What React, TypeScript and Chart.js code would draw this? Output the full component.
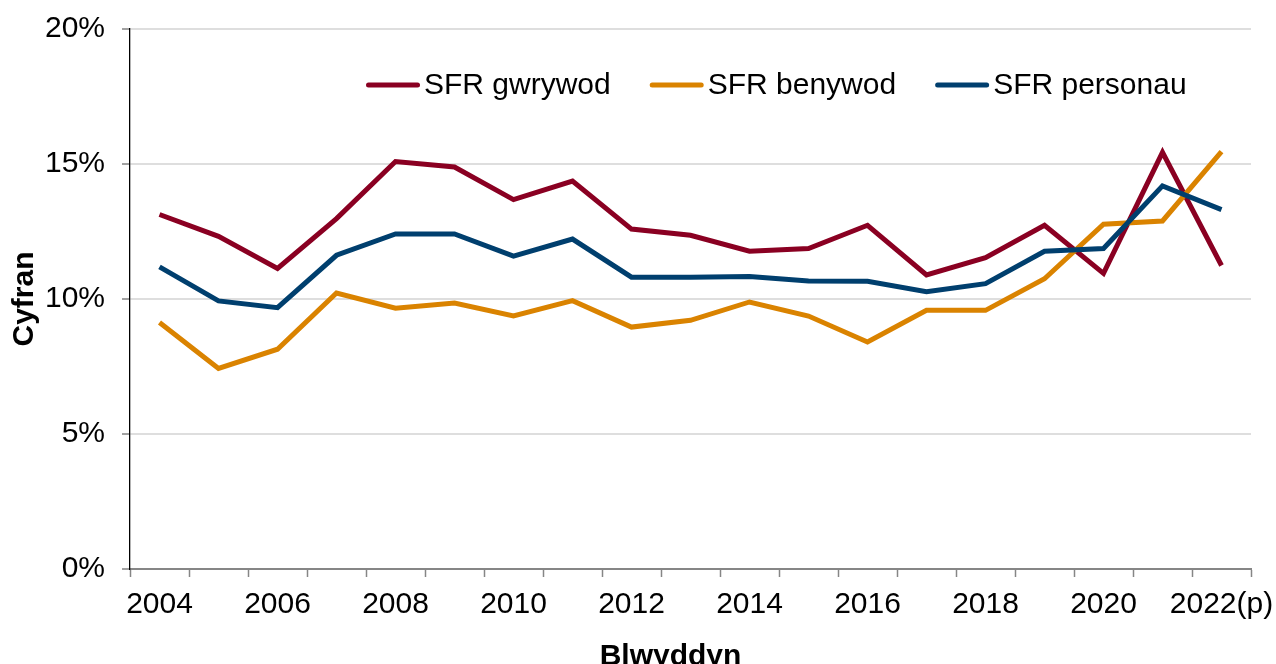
import React, { useEffect, useRef } from "react";
import { Chart, registerables } from "chart.js";

Chart.register(...registerables);

const YEARS = [
  "2004", "2005", "2006", "2007", "2008", "2009", "2010", "2011", "2012", "2013",
  "2014", "2015", "2016", "2017", "2018", "2019", "2020", "2021", "2022(p)",
];

const SFR_GWRYWOD = [
  13.13, 12.32, 11.13, 12.98, 15.09, 14.89, 13.68, 14.37, 12.59, 12.36,
  11.77, 11.87, 12.73, 10.89, 11.53, 12.73, 10.95, 15.43, 11.24,
];
const SFR_BENYWOD = [
  9.13, 7.43, 8.14, 10.22, 9.66, 9.85, 9.37, 9.94, 8.96, 9.21,
  9.89, 9.37, 8.41, 9.58, 9.58, 10.75, 12.77, 12.89, 15.46,
];
const SFR_PERSONAU = [
  11.19, 9.93, 9.68, 11.62, 12.41, 12.41, 11.59, 12.22, 10.81, 10.81,
  10.83, 10.67, 10.66, 10.27, 10.57, 11.77, 11.87, 14.19, 13.31,
];

const SERIES_LABELS = ["SFR gwrywod", "SFR benywod", "SFR personau"];
const SERIES_COLORS = ["#8A0022", "#DA8300", "#003F6E"];
const Y_TICKS = [0, 5, 10, 15, 20];
const X_TITLE = "Blwyddyn";
const Y_TITLE = "Cyfran";

const FONT = "'Liberation Sans', Arial, sans-serif";

const overlayPlugin = {
  id: "overlay",
  afterDraw(chart: any) {
    const { ctx, chartArea } = chart;
    ctx.save();
    // legend
    ctx.font = `30px ${FONT}`;
    ctx.textBaseline = "middle";
    ctx.textAlign = "left";
    let x = chartArea.left + 236;
    const y = chartArea.top + 56;
    chart.data.datasets.forEach((ds: any) => {
      ctx.strokeStyle = ds.borderColor;
      ctx.lineWidth = 5;
      ctx.lineCap = "round";
      ctx.beginPath();
      ctx.moveTo(x + 2.5, y);
      ctx.lineTo(x + 51.5, y);
      ctx.stroke();
      ctx.fillStyle = "#000";
      ctx.fillText(ds.label, x + 58, y + 1);
      x += 58 + ctx.measureText(ds.label).width + 39;
    });
    // x axis title
    ctx.font = `bold 30px ${FONT}`;
    ctx.textAlign = "center";
    ctx.fillStyle = "#000";
    ctx.fillText(X_TITLE, (chartArea.left + chartArea.right) / 2 - 20, chart.height - 7);
    ctx.restore();
  },
};

export default function App() {
  const ref = useRef<HTMLCanvasElement | null>(null);

  useEffect(() => {
    if (!ref.current) return;
    const data = [SFR_GWRYWOD, SFR_BENYWOD, SFR_PERSONAU];
    const chart = new Chart(ref.current, {
      type: "line",
      data: {
        labels: YEARS,
        datasets: data.map((d, i) => ({
          label: SERIES_LABELS[i],
          data: d,
          borderColor: SERIES_COLORS[i],
          backgroundColor: SERIES_COLORS[i],
          borderWidth: 5,
          pointRadius: 0,
          pointHoverRadius: 0,
          tension: 0,
          fill: false,
          order: 2 - i,
        })),
      },
      options: {
        responsive: false,
        animation: false,
        events: [],
        layout: { padding: { top: 29, right: 25, bottom: 0, left: 0 } },
        plugins: {
          legend: { display: false },
          tooltip: { enabled: false },
        },
        scales: {
          x: {
            type: "category",
            offset: true,
            grid: {
              display: true,
              drawOnChartArea: false,
              drawTicks: true,
              offset: true,
              tickLength: 8,
              tickColor: "#868686",
              tickWidth: 1.5,
            },
            border: { display: true, color: "#868686", width: 2 },
            ticks: {
              autoSkip: false,
              maxRotation: 0,
              minRotation: 0,
              padding: 10,
              color: "#000",
              font: { family: FONT, size: 30 },
              callback: (_v: any, i: number) => (i % 2 === 0 ? YEARS[i] : ""),
            },
            afterFit: (scale: any) => {
              scale.height = 95;
              scale.paddingLeft = 0;
              scale.paddingRight = 0;
            },
          },
          y: {
            min: Y_TICKS[0],
            max: Y_TICKS[Y_TICKS.length - 1],
            grid: {
              color: (c: any) => (c.tick && c.tick.value === 0 ? "rgba(0,0,0,0)" : "#dedede"),
              lineWidth: 2,
              tickLength: 8,
              tickColor: "#444",
              tickWidth: 1,
            },
            border: { display: true, color: "#000", width: 1.3 },
            afterBuildTicks: (scale: any) => {
              scale.ticks = Y_TICKS.map((v) => ({ value: v }));
            },
            ticks: {
              padding: 17,
              color: "#000",
              font: { family: FONT, size: 30 },
              callback: (v: any) => `${v}%`,
            },
            title: {
              display: true,
              text: Y_TITLE,
              color: "#000",
              font: { family: FONT, size: 30, weight: "bold" },
              padding: { top: 7, bottom: 0 },
            },
            afterFit: (scale: any) => {
              scale.width = 130;
              scale.paddingTop = 0;
              scale.paddingBottom = 0;
            },
          },
        },
      },
      plugins: [overlayPlugin],
    });
    return () => chart.destroy();
  }, []);

  return (
    <div style={{ position: "fixed", left: 0, top: 0, width: 1276, height: 664, background: "#fff" }}>
      <canvas ref={ref} width={1276} height={664} style={{ display: "block" }} />
    </div>
  );
}
